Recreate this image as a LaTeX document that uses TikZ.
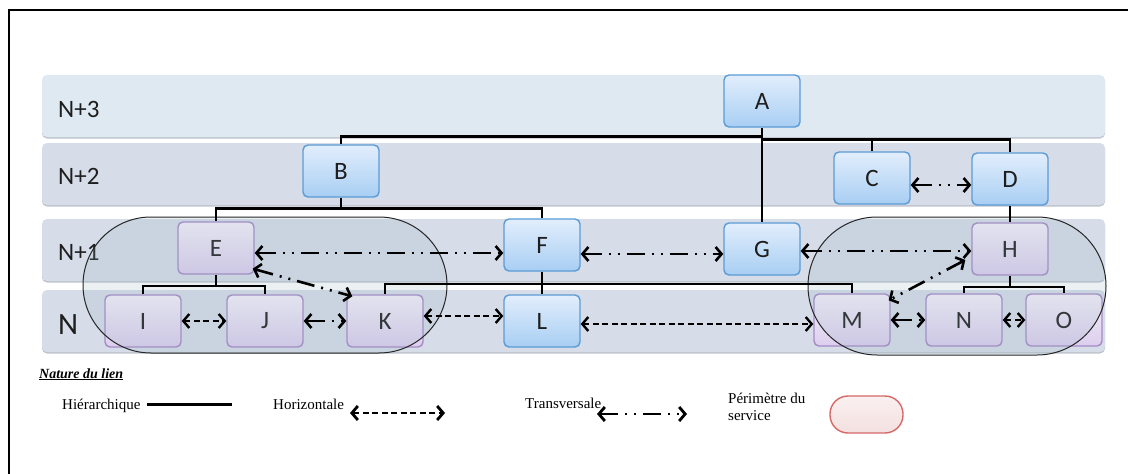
\documentclass[tikz,border=0pt]{standalone}
\usepackage{fontspec}
\setmainfont{Liberation Serif}
\newfontfamily\lvlfont{Carlito}
\usetikzlibrary{arrows.meta}

\definecolor{bandtop}{RGB}{222,233,241}
\definecolor{bandmid}{RGB}{214,221,233}
\definecolor{bandshadow}{RGB}{190,196,206}
\definecolor{blueA}{RGB}{226,238,252}
\definecolor{blueB}{RGB}{168,206,243}
\definecolor{blueedge}{RGB}{92,155,213}
\definecolor{purpA}{RGB}{244,240,250}
\definecolor{purpB}{RGB}{220,206,238}
\definecolor{purpedge}{RGB}{166,138,198}
\definecolor{perim}{RGB}{144,172,188}
\definecolor{pinkA}{RGB}{250,240,240}
\definecolor{pinkB}{RGB}{243,224,224}
\definecolor{pinkedge}{RGB}{214,104,104}
\definecolor{ink}{RGB}{30,30,30}

\tikzset{
  band/.style={rounded corners=5pt, fill=bandmid},
  bandshade/.style={rounded corners=5pt, fill=bandshadow},
  lvl/.style={anchor=base west, inner sep=0pt, text=ink, font=\lvlfont\fontsize{25}{30}\selectfont},
  box/.style={rounded corners=5pt, line width=1.4pt, minimum width=76pt, minimum height=52pt,
    inner sep=0pt, text=ink, font=\lvlfont\fontsize{25}{28}\selectfont},
  bluebox/.style={box, draw=blueedge, top color=blueA, bottom color=blueB},
  purplebox/.style={box, draw=purpedge, top color=purpA, bottom color=purpB},
  perimeter/.style={draw=black!85, line width=1pt, fill=perim, fill opacity=0.18},
  hier/.style={line width=2.6pt, black},
  hierthin/.style={line width=2pt, black},
  horiz/.style={line width=2.4pt, black, dash pattern=on 6pt off 3.5pt,
    {Straight Barb[length=6pt,width=14pt]}-{Straight Barb[length=6pt,width=14pt]}},
  trans/.style={line width=2.6pt, black, dash pattern=on 18pt off 7pt on 2pt off 7pt on 2pt off 7pt,
    {Straight Barb[length=6pt,width=14pt]}-{Straight Barb[length=6pt,width=14pt]}},
  legtext/.style={anchor=base west, inner sep=0pt, font=\fontsize{15}{17}\selectfont},
}

\begin{document}
\begin{tikzpicture}[x=1pt,y=-1pt]
\useasboundingbox (0,0) rectangle (1128,474);

% frame
\draw[line width=2pt] (9,474) -- (9,10) -- (1128,10);

% level bands
\foreach \t/\b in {75/137,143/205,219/281,290/352}
  \fill[bandshade] (42,\t+1.5) rectangle (1105,\b+1.5);
\fill[band, fill=bandtop] (42,75) rectangle (1105,137);
\fill[band] (42,143) rectangle (1105,205);
\fill[band] (42,219) rectangle (1105,281);
\fill[band] (42,290) rectangle (1105,352);

\node[lvl] (l3) at (58,117) {N+3};
\node[lvl] (l2) at (58,184) {N+2};
\node[lvl] (l1) at (58,260) {N+1};
\node[lvl, font=\lvlfont\fontsize{31}{36}\selectfont] (l0) at (58,334) {N};

% units
\node[bluebox] (A) at (762,101) {A};
\node[bluebox] (B) at (341,171) {B};
\node[bluebox] (C) at (872,178) {C};
\node[bluebox] (D) at (1010,179) {D};
\node[purplebox] (E) at (216,248) {E};
\node[bluebox] (F) at (542,245) {F};
\node[bluebox] (G) at (762,249) {G};
\node[purplebox] (H) at (1010,249) {H};
\node[purplebox] (I) at (143,321) {I};
\node[purplebox] (J) at (265,321) {J};
\node[purplebox] (K) at (385,321) {K};
\node[bluebox] (L) at (542,321) {L};
\node[purplebox] (M) at (852,320) {M};
\node[purplebox] (N) at (964,320) {N};
\node[purplebox] (O) at (1064,320) {O};

% service perimeters
\path[perimeter, rounded corners=68pt] (83,217) rectangle (447,353);
\path[perimeter, rounded corners=69pt] (808,217) rectangle (1106,355);

% hierarchical links
\coordinate (asplitL) at ([yshift=-9pt]A.south);
\coordinate (asplitR) at ([yshift=-12pt]A.south);
\draw[hier] (A.south) -- (G.north);
\draw[hier] (asplitL) -| (B.north);
\draw[hier] (asplitR) -| (C.north);
\draw[hier] (asplitR) -| (D.north);
\coordinate (bsplit) at ([yshift=-11pt]B.south);
\draw[hier] (B.south) -- (bsplit) -| (E.north);
\draw[hier] (bsplit) -| (F.north);
\draw[hier] (D.south) -- (H.north);
\coordinate (esplit) at ([yshift=-11pt]E.south);
\draw[hierthin] (E.south) -- (esplit) -| (I.north);
\draw[hierthin] (esplit) -| (J.north);
\draw[hier] (F.south) -- (L.north);
\coordinate (fsplit) at ([yshift=-12pt]F.south);
\draw[hierthin] (fsplit) -| (K.north);
\draw[hierthin] (fsplit) -| (M.north);
\coordinate (hsplit) at ([yshift=-11pt]H.south);
\draw[hierthin] (H.south) -- (hsplit) -| (N.north);
\draw[hierthin] (hsplit) -| (O.north);

% horizontal links
\draw[horiz] (I.east) -- (J.west);
\draw[horiz] ([yshift=5pt]K.east) -- ([yshift=5pt]L.west);
\draw[horiz] ([yshift=-3pt]L.east) -- ([yshift=-4pt]M.west);
\draw[horiz] (N.east) -- (O.west);

% transversal links
\draw[trans] ([yshift=-7pt]C.east) -- ([yshift=-6pt]D.west);
\draw[trans] ([yshift=-5pt]E.east) -- ([yshift=-8pt]F.west);
\draw[trans] ([yshift=-9pt]F.east) -- ([yshift=-5pt]G.west);
\draw[trans] ([yshift=-2pt]G.east) -- ([yshift=-2pt]H.west);
\draw[trans] ([xshift=-2pt,yshift=6pt]E.south east) -- ([xshift=6pt,yshift=-2pt]K.north west);
\draw[trans] ([xshift=-6pt,yshift=-11pt]H.west) -- ([xshift=-2pt,yshift=-7pt]M.north east);
\draw[trans] (J.east) -- (K.west);
\draw[trans] (M.east) -- (N.west);

% legend
\node[anchor=base west, inner sep=0pt, font=\fontsize{14}{16}\selectfont\bfseries\itshape] (nature) at (39,378) {\underline{Nature du lien}};
\node[legtext] (lhier) at (62,409) {Hiérarchique};
\node[legtext] (lhoriz) at (273,409) {Horizontale};
\node[legtext] (ltrans) at (525,408) {Transversale};
\node[legtext] (lper1) at (728,403) {Périmètre du};
\node[legtext] (lper2) at (728,420) {service};
\coordinate (hierA) at (147,404);
\coordinate (hierB) at (232,404);
\coordinate (horizA) at (350,413);
\coordinate (horizB) at (445,413);
\coordinate (transA) at (597,414);
\coordinate (transB) at (687,414);
\draw[hier, line width=3pt] (hierA) -- (hierB);
\draw[horiz, line width=2.8pt] (horizA) -- (horizB);
\draw[trans, line width=2.8pt] (transA) -- (transB);
\node[draw=pinkedge, line width=1.4pt, top color=pinkA, bottom color=pinkB, rounded corners=18pt,
  minimum width=73pt, minimum height=37pt, inner sep=0pt] (pill) at (866.5,414.5) {};
\end{tikzpicture}
\end{document}
